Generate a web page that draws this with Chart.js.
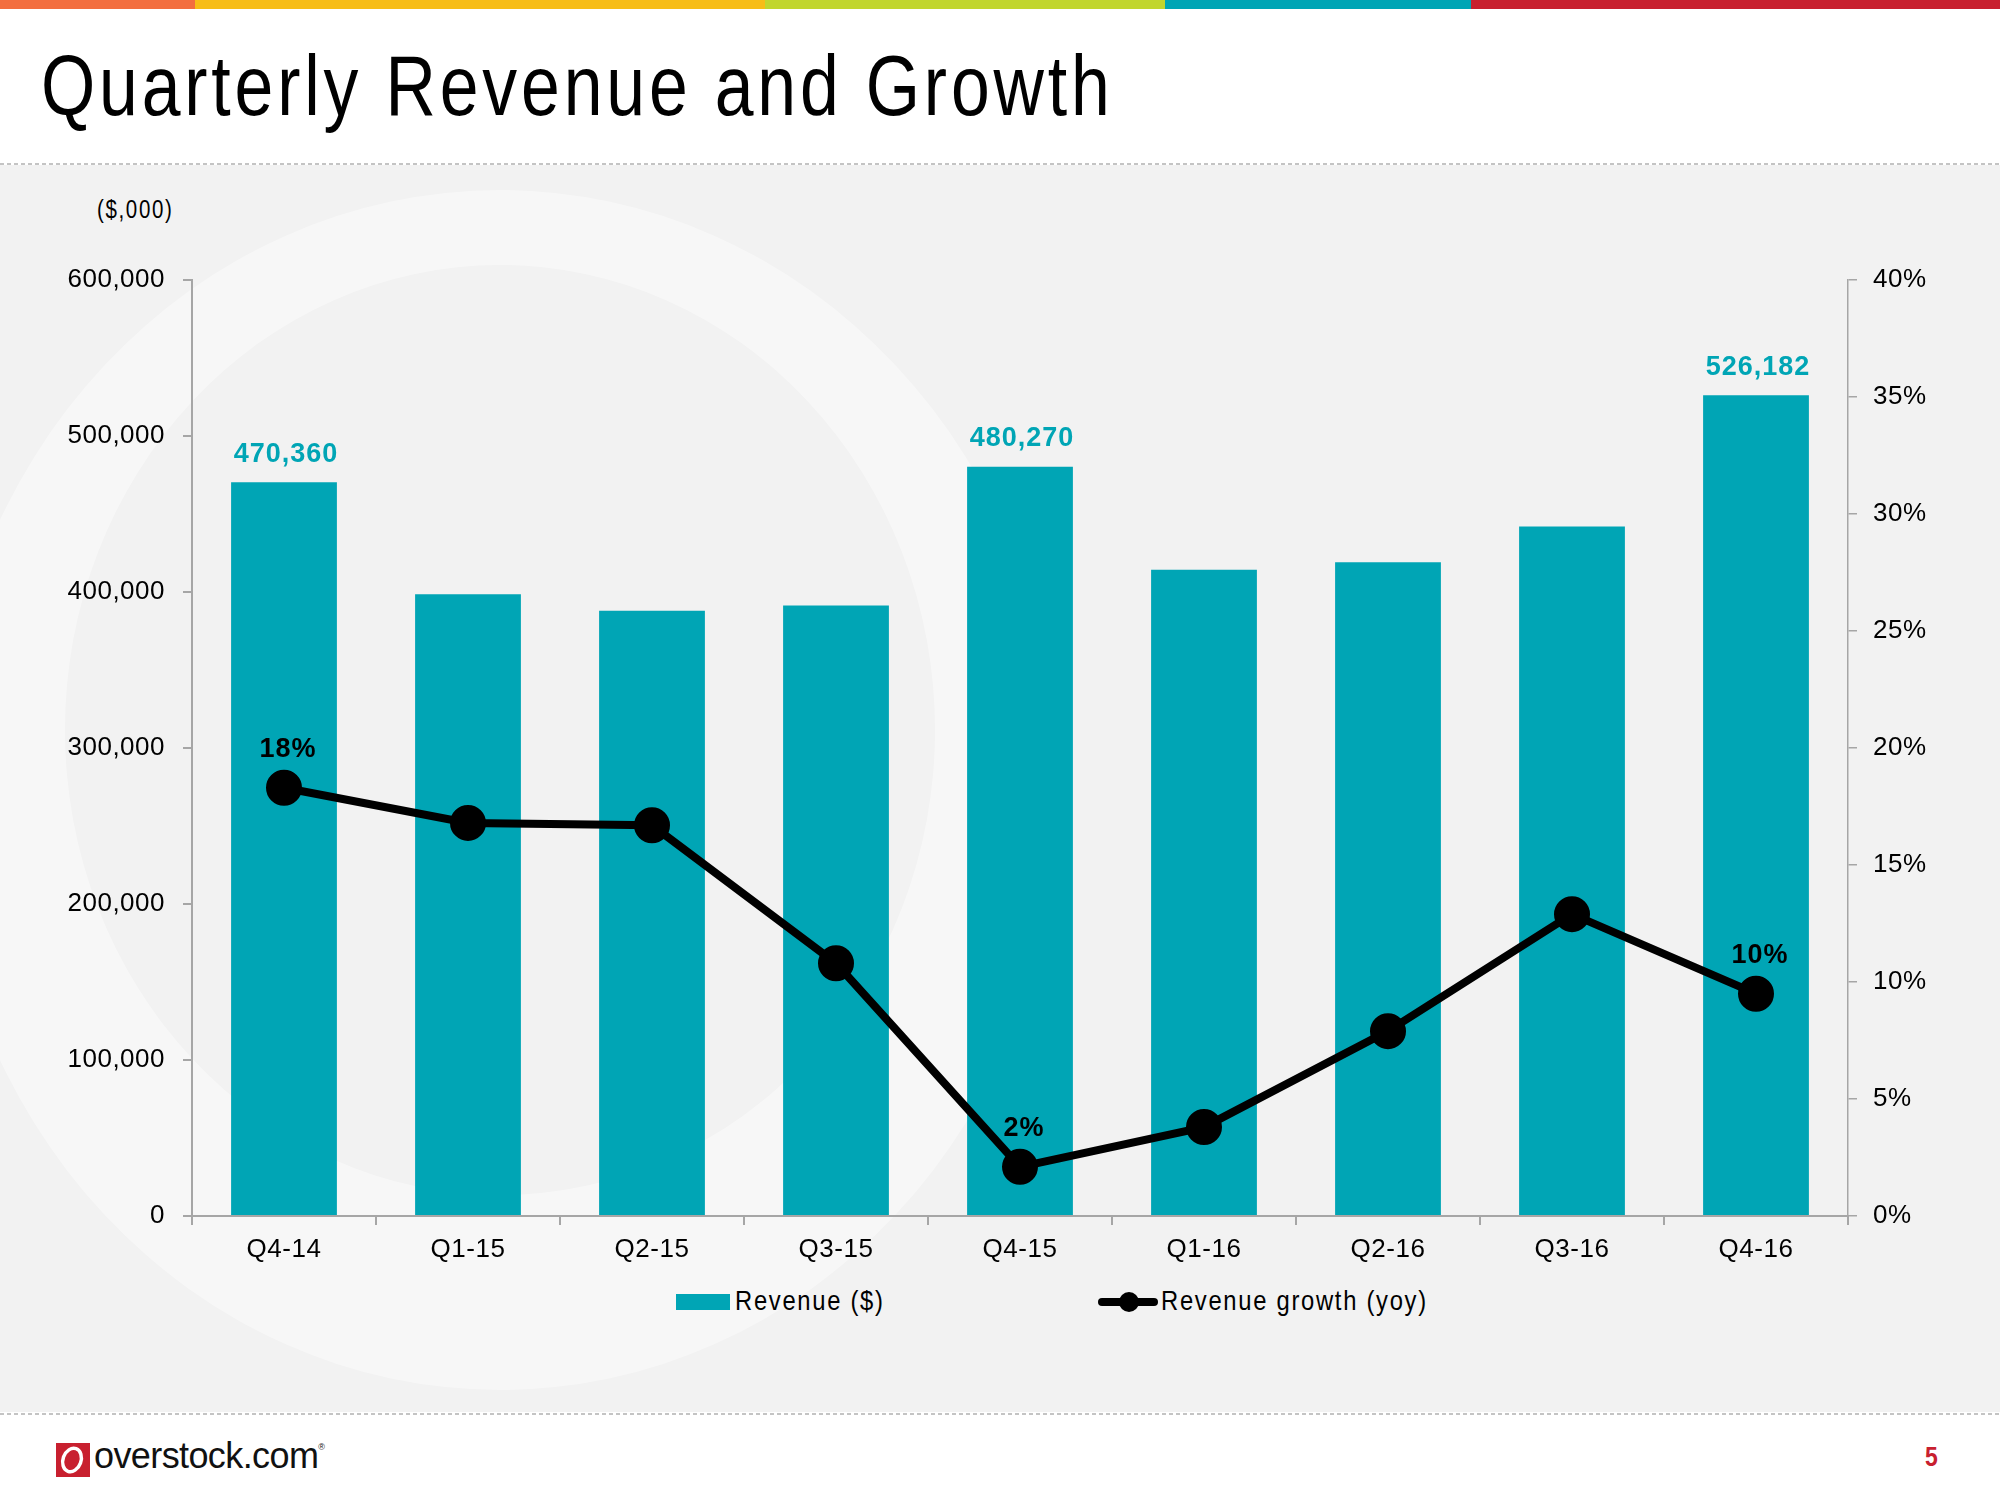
<!DOCTYPE html>
<html>
<head>
<meta charset="utf-8">
<script src="https://cdn.jsdelivr.net/npm/chart.js@4.4.1/dist/chart.umd.min.js"></script>
<style>
    body { margin: 0; width: 2000px; height: 1500px; position: relative; background: #fff; overflow: hidden;
           font-family: "Liberation Sans", Arial, sans-serif; }
    .abs { position: absolute; }
    .bar { position: absolute; }
    .dash { position: absolute; left: 0; width: 2000px; height: 2px;
            background: repeating-linear-gradient(90deg, #c4c4c4 0 4px, transparent 4px 7px); }
    /* no narrow face installed, so squeeze the regular one */
    .narrow { transform: scaleX(0.82); transform-origin: left center; white-space: nowrap; }
    #title { left: 41px; top: 36px; font-size: 85px; line-height: 100px; letter-spacing: 4.7px; color: #000; }
    #units { left: 97px; top: 194px; font-size: 25px; line-height: 30px; letter-spacing: 2px; color: #000; }
    #legend { top: 1285px; left: 676px; height: 32px; font-size: 28px; line-height: 32px; color: #000; }
    #legend span { position: absolute; white-space: nowrap; }
    #legend .txt { letter-spacing: 2px; transform: scaleX(0.85); transform-origin: left center; }
    #page { left: 1925px; top: 1440px; font-size: 28px; line-height: 34px; font-weight: bold; color: #c8202f; }
    #logo { left: 56px; top: 1443px; width: 34px; height: 34px; background: #c8202f; }
    #logotext { left: 94px; top: 1432px; font-size: 36px; line-height: 48px; letter-spacing: -0.6px; color: #111; }
    canvas { position: absolute; left: 0; top: 0; }
</style>
</head>
<body>
<div class="bar" style="left:0;top:0;width:195px;height:9px;background:#f36e3f"></div>
<div class="bar" style="left:195px;top:0;width:570px;height:9px;background:#f7bd17"></div>
<div class="bar" style="left:765px;top:0;width:400px;height:9px;background:#c1d62e"></div>
<div class="bar" style="left:1165px;top:0;width:306px;height:9px;background:#00a5b5"></div>
<div class="bar" style="left:1471px;top:0;width:529px;height:9px;background:#c8202f"></div>

<div id="title" class="abs narrow">Quarterly Revenue and Growth</div>
<div class="dash" style="top:163px"></div>
<div class="abs" style="left:0;top:165px;width:2000px;height:1247px;background:#f2f2f2;overflow:hidden">
    <svg width="2000" height="1247" style="position:absolute;left:0;top:0">
        <path fill="#ffffff" fill-opacity="0.4" fill-rule="evenodd"
              d="M -60 625 A 560 600 0 1 0 1060 625 A 560 600 0 1 0 -60 625 Z
                 M 65 565 A 435 465 0 1 0 935 565 A 435 465 0 1 0 65 565 Z"/>
    </svg>
</div>
<div class="dash" style="top:1413px"></div>

<div id="units" class="abs narrow">($,000)</div>

<div id="legend" class="abs">
    <span style="left:0;top:9px;width:54px;height:16px;background:#00a5b5"></span>
    <span class="txt" style="left:59px;top:0">Revenue ($)</span>
    <span style="left:422px;top:13px;width:60px;height:8px;background:#000;border-radius:4px"></span>
    <span style="left:443px;top:7px;width:20px;height:20px;background:#000;border-radius:50%"></span>
    <span class="txt" style="left:485px;top:0">Revenue growth (yoy)</span>
</div>

<div id="logo" class="abs">
    <svg width="34" height="34"><ellipse cx="16" cy="17" rx="9" ry="12" fill="none" stroke="#fff" stroke-width="3.5" transform="rotate(20 16 17)"/></svg>
</div>
<div id="logotext" class="abs">overstock.com<sup style="font-size:9px;vertical-align:top;line-height:30px">®</sup></div>
<div id="page" class="abs narrow">5</div>

<canvas id="revenueChart" width="2000" height="1500"></canvas>

<script>
// Chart data
const quarters = ['Q4-14', 'Q1-15', 'Q2-15', 'Q3-15', 'Q4-15', 'Q1-16', 'Q2-16', 'Q3-16', 'Q4-16'];
const revenue = [470360, 398600, 388000, 391300, 480270, 414200, 419100, 442000, 526182];
const growth = [18.3, 16.8, 16.7, 10.8, 2.1, 3.8, 7.9, 12.9, 9.5]; // percent, yoy
const labelledPoints = [0, 4, 8]; // which quarters carry value labels
const revenueTicks = [0, 100000, 200000, 300000, 400000, 500000, 600000];
const growthTicks = [0, 5, 10, 15, 20, 25, 30, 35, 40];

const teal = '#00a5b5';
const axisGray = '#a6a6a6';
const fontFamily = '"Liberation Sans", Arial, sans-serif';

// canvas letter spacing gets reset when the canvas is resized, so set it before layout and draw
const spacingPlugin = {
    id: 'spacing',
    beforeLayout(chart) { chart.ctx.letterSpacing = '0.5px'; },
    beforeDraw(chart) { chart.ctx.letterSpacing = '0.5px'; }
};

// value labels above the selected bars and points
const valueLabels = {
    id: 'valueLabels',
    afterDatasetsDraw(chart) {
        const ctx = chart.ctx;
        const bars = chart.getDatasetMeta(1).data;
        const points = chart.getDatasetMeta(0).data;
        ctx.save();
        ctx.letterSpacing = '1px';
        ctx.textAlign = 'center';
        ctx.textBaseline = 'middle';
        ctx.font = 'bold 27px ' + fontFamily;
        labelledPoints.forEach(i => {
            ctx.fillStyle = teal;
            ctx.fillText(revenue[i].toLocaleString('en-US'), bars[i].x + 2, bars[i].y - 28);
            ctx.fillStyle = '#000';
            ctx.fillText(Math.round(growth[i]) + '%', points[i].x + 4, points[i].y - 38);
        });
        ctx.restore();
    }
};

const tickFont = { family: fontFamily, size: 26 };

const ctx = document.getElementById('revenueChart').getContext('2d');
const revenueChart = new Chart(ctx, {
    data: {
        labels: quarters,
        datasets: [{
            type: 'line',
            label: 'Revenue growth (yoy)',
            data: growth,
            yAxisID: 'y1',
            borderColor: '#000',
            backgroundColor: '#000',
            borderWidth: 8,
            pointRadius: 14,
            pointHoverRadius: 14,
            tension: 0,
            order: 0
        }, {
            type: 'bar',
            label: 'Revenue ($)',
            data: revenue,
            yAxisID: 'y',
            backgroundColor: teal,
            barPercentage: 0.575,
            categoryPercentage: 1,
            order: 1
        }]
    },
    options: {
        responsive: false,
        devicePixelRatio: 1,
        animation: false,
        layout: { padding: { top: 280, left: 0, right: 0, bottom: 224 } },
        plugins: {
            legend: { display: false },
            tooltip: { enabled: false }
        },
        scales: {
            x: {
                offset: true,
                grid: { drawOnChartArea: false, tickLength: 9, color: axisGray, lineWidth: 2, offset: true },
                border: { color: axisGray, width: 2 },
                ticks: { color: '#000', font: tickFont, padding: 9 },
                afterFit(scale) { scale.height = 60; }
            },
            y: {
                position: 'left',
                min: 0,
                max: 600000,
                afterBuildTicks(scale) { scale.ticks = revenueTicks.map(v => ({ value: v })); },
                grid: { drawOnChartArea: false, tickLength: 9, color: axisGray, lineWidth: 2 },
                border: { color: axisGray, width: 2 },
                ticks: {
                    color: '#000', font: tickFont, padding: 18,
                    callback: v => v.toLocaleString('en-US')
                },
                afterFit(scale) { scale.width = 192; }
            },
            y1: {
                position: 'right',
                min: 0,
                max: 40,
                afterBuildTicks(scale) { scale.ticks = growthTicks.map(v => ({ value: v })); },
                grid: { drawOnChartArea: false, tickLength: 9, color: axisGray, lineWidth: 1.5 },
                border: { color: axisGray, width: 1.5 },
                ticks: { color: '#000', font: tickFont, padding: 16, callback: v => v + '%' },
                afterFit(scale) { scale.width = 152; }
            }
        }
    },
    plugins: [spacingPlugin, valueLabels]
});
</script>
</body>
</html>
